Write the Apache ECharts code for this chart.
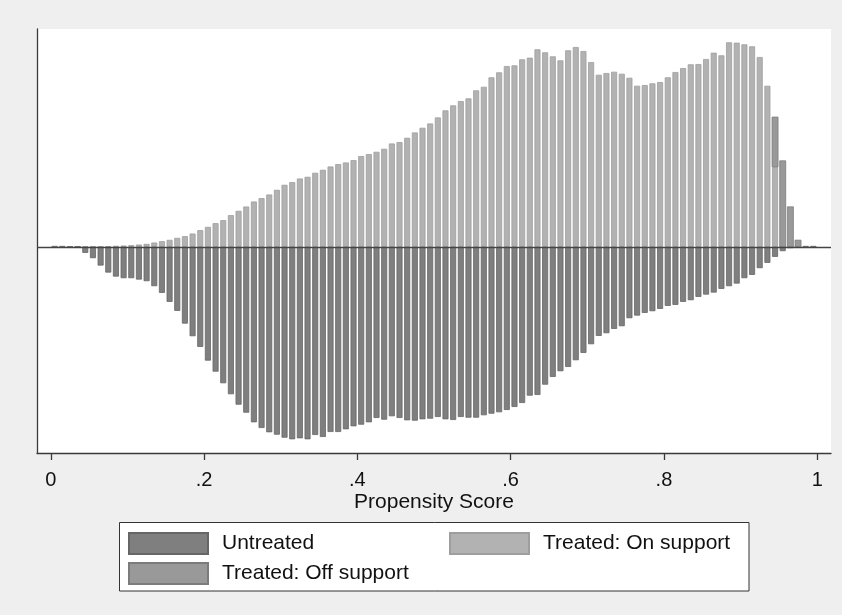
<!DOCTYPE html>
<html>
<head>
<meta charset="utf-8">
<script src="https://cdn.jsdelivr.net/npm/echarts@6/dist/echarts.min.js"></script>
<style>
  html, body { margin: 0; padding: 0; background: #efefef; }
  #chart { width: 842px; height: 615px; }
</style>
</head>
<body>
<div id="chart"></div>
<script>
// histogram bins: width .01 starting at 0
const BIN_START = 0;
const BIN_WIDTH = 0.01;

// treated, on support (density, upper half)
const treatedOn = [
  1.0, 1.0, 0.7, 0.3, 0.3, 0.3, 0.3, 0.7, 1.0, 1.3,
  1.7, 2.3, 3.0, 4.3, 5.7, 7.0, 9.0, 10.7, 13.3, 16.7,
  20.0, 23.7, 26.7, 31.7, 36.0, 40.3, 45.3, 48.7, 52.3, 57.0,
  62.0, 64.7, 68.3, 70.0, 74.0, 77.0, 80.3, 82.7, 84.3, 86.7,
  90.7, 92.7, 95.0, 98.0, 103.3, 104.7, 109.0, 114.3, 119.0, 123.3,
  129.3, 136.4, 141.4, 145.7, 148.4, 156.4, 160.0, 169.4, 174.4, 180.7,
  181.4, 187.4, 189.0, 197.4, 194.4, 190.4, 186.4, 196.4, 199.7, 195.7,
  184.7, 172.0, 173.7, 175.0, 173.0, 169.0, 161.0, 161.7, 163.4, 164.7,
  169.4, 174.7, 178.7, 182.4, 182.7, 187.7, 194.0, 191.4, 204.4, 204.0,
  202.4, 200.4, 189.7, 161.0, 80.0, 0, 0, 0, 1.0, 1.0
];

// treated, off support (sits on top of on support)
const treatedOff = [
  0, 0, 0, 0, 0, 0, 0, 0, 0, 0,
  0, 0, 0, 0, 0, 0, 0, 0, 0, 0,
  0, 0, 0, 0, 0, 0, 0, 0, 0, 0,
  0, 0, 0, 0, 0, 0, 0, 0, 0, 0,
  0, 0, 0, 0, 0, 0, 0, 0, 0, 0,
  0, 0, 0, 0, 0, 0, 0, 0, 0, 0,
  0, 0, 0, 0, 0, 0, 0, 0, 0, 0,
  0, 0, 0, 0, 0, 0, 0, 0, 0, 0,
  0, 0, 0, 0, 0, 0, 0, 0, 0, 0,
  0, 0, 0, 0, 49.7, 86.0, 40.0, 6.7, 0, 0
];

// untreated (drawn below zero)
const untreated = [
  0, 0, 0, 0, 6.0, 11.3, 18.7, 25.7, 29.7, 31.3,
  31.3, 32.7, 34.3, 39.3, 46.0, 55.0, 64.0, 76.7, 89.3, 100.0,
  113.7, 124.7, 136.3, 147.3, 157.7, 165.7, 175.3, 181.0, 185.3, 187.7,
  190.7, 192.3, 191.3, 192.3, 188.0, 190.0, 185.0, 185.0, 182.3, 179.3,
  177.7, 175.3, 171.0, 172.7, 169.3, 171.0, 173.3, 173.7, 172.3, 171.7,
  170.0, 172.3, 173.0, 170.0, 170.7, 170.7, 168.3, 166.7, 165.3, 163.0,
  160.0, 156.0, 148.7, 148.0, 137.7, 130.0, 124.3, 120.0, 113.3, 106.0,
  97.3, 89.0, 86.3, 82.0, 79.3, 71.3, 68.7, 66.0, 64.3, 62.0,
  59.0, 58.0, 55.0, 53.3, 50.0, 47.7, 45.7, 42.0, 39.3, 36.7,
  31.3, 28.0, 21.3, 16.0, 10.0, 4.3, 1.3, 0, 0, 0
];

const xTicks = [0, 0.2, 0.4, 0.6, 0.8, 1];

const FONT = '"Liberation Sans", Arial, sans-serif';
const BAR_PX = 6;
const COLORS = {
  untreated: { fill: '#7f7f7f', line: '#666666' },
  on:        { fill: '#b2b2b2', line: '#9e9e9e' },
  off:       { fill: '#999999', line: '#7c7c7c' }
};

const binCenter = i => +(BIN_START + BIN_WIDTH * (i + 0.5)).toFixed(4);
const toPoints = (arr, sign) => arr.map((v, i) => [binCenter(i), sign * v]);

// off support: [x, from, to], stacked on the on-support height of the same bin
const offRanges = [];
treatedOff.forEach((v, i) => {
  if (v > 0) offRanges.push([binCenter(i), treatedOn[i], treatedOn[i] + v]);
});

const chart = echarts.init(document.getElementById('chart'), null, { renderer: 'canvas' });

const legendBase = {
  orient: 'horizontal',
  padding: 0,
  itemGap: 0,
  itemWidth: 79,
  itemHeight: 21,
  icon: 'rect',
  selectedMode: false,
  textStyle: { fontSize: 21, color: '#111', fontFamily: FONT, padding: [0, 0, 0, 9] }
};

// both bar series share one x slot
const barBase = {
  type: 'bar',
  barWidth: BAR_PX,
  barGap: '-100%',
  silent: true,
  animation: false
};

chart.setOption({
  backgroundColor: '#efefef',
  animation: false,
  grid: {
    left: 37, right: 11, top: 29, bottom: 162,
    show: true, backgroundColor: '#fff', borderWidth: 0
  },
  xAxis: {
    type: 'value',
    min: -0.018,
    max: 1.018,
    name: 'Propensity Score',
    nameLocation: 'middle',
    nameGap: 39,
    nameMoveOverlap: false,
    nameTextStyle: { fontSize: 21, color: '#111', fontFamily: FONT },
    axisLine: { show: true, onZero: false, lineStyle: { color: '#3a3a3a', width: 1.3 } },
    axisTick: { show: true, length: 7, customValues: xTicks, lineStyle: { color: '#3a3a3a', width: 1.3 } },
    axisLabel: {
      customValues: xTicks,
      margin: 17,
      fontSize: 20,
      color: '#111',
      fontFamily: FONT,
      formatter: v => (v === 0 || v === 1) ? String(v) : String(v).replace(/^0/, '')
    },
    splitLine: { show: false }
  },
  yAxis: {
    type: 'value',
    min: -206,
    max: 217.7,
    axisLine: { show: true, onZero: false, lineStyle: { color: '#3a3a3a', width: 1.3 } },
    axisTick: { show: false },
    axisLabel: { show: false },
    splitLine: { show: false }
  },
  legend: [
    Object.assign({}, legendBase, { data: ['Untreated'], left: 128, top: 532 }),
    Object.assign({}, legendBase, { data: ['Treated: On support'], left: 449, top: 532 }),
    Object.assign({}, legendBase, { data: ['Treated: Off support'], left: 128, top: 562 })
  ],
  graphic: [{
    type: 'rect',
    z: 1,
    shape: { x: 119.5, y: 522.5, width: 629.5, height: 68.5 },
    style: { fill: '#fff', stroke: '#333', lineWidth: 1 }
  }],
  series: [
    Object.assign({}, barBase, {
      name: 'Treated: On support',
      data: toPoints(treatedOn, 1),
      itemStyle: { color: COLORS.on.fill, borderColor: COLORS.on.line, borderWidth: 0.8 }
    }),
    Object.assign({}, barBase, {
      name: 'Untreated',
      data: toPoints(untreated, -1),
      itemStyle: { color: COLORS.untreated.fill, borderColor: COLORS.untreated.line, borderWidth: 0.8 },
      markLine: {
        silent: true,
        symbol: 'none',
        label: { show: false },
        lineStyle: { color: '#444', width: 1.3, type: 'solid' },
        data: [{ yAxis: 0 }]
      }
    }),
    {
      type: 'custom',
      name: 'Treated: Off support',
      silent: true,
      z: 3,
      itemStyle: { color: COLORS.off.fill, borderColor: COLORS.off.line, borderWidth: 0.8 },
      encode: { x: 0, y: [1, 2] },
      data: offRanges,
      renderItem: (params, api) => {
        const top = api.coord([api.value(0), api.value(2)]);
        const base = api.coord([api.value(0), api.value(1)]);
        return {
          type: 'rect',
          shape: { x: top[0] - BAR_PX / 2, y: top[1], width: BAR_PX, height: base[1] - top[1] },
          style: { fill: COLORS.off.fill, stroke: COLORS.off.line, lineWidth: 0.8 }
        };
      }
    }
  ]
});
</script>
</body>
</html>
